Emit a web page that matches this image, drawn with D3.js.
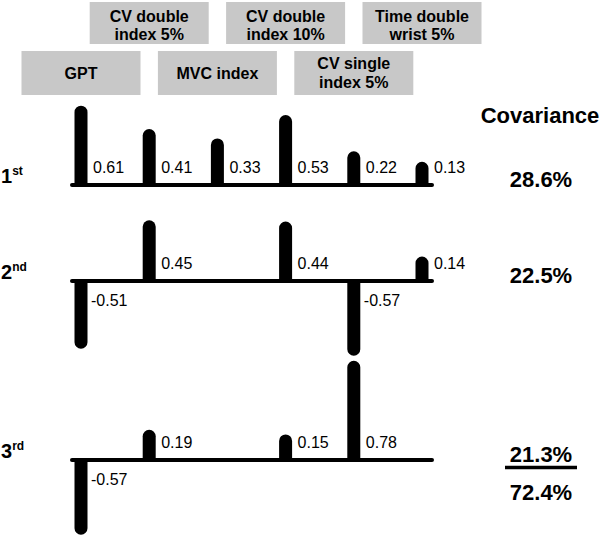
<!DOCTYPE html>
<html>
<head>
<meta charset="utf-8">
<script src="https://cdn.jsdelivr.net/npm/d3@7"></script>
<style>
  body { margin: 0; background: #fff; }
  text { font-family: "Liberation Sans", Arial, sans-serif; fill: #000; }
</style>
</head>
<body>
<div id="canvas"></div>
<script>
// variables (header boxes), in column order
var variables = ["GPT", "CV double index 5%", "MVC index", "CV double index 10%", "CV single index 5%", "Time double wrist 5%"];
var headerLines = [["GPT"], ["CV double", "index 5%"], ["MVC index"], ["CV double", "index 10%"], ["CV single", "index 5%"], ["Time double", "wrist 5%"]];

// components
var componentNum = ["1", "2", "3"];
var componentSup = ["st", "nd", "rd"];

// loadings per component (null = not shown)
var loadings1 = [0.61, 0.41, 0.33, 0.53, 0.22, 0.13];
var loadings2 = [-0.51, 0.45, null, 0.44, -0.57, 0.14];
var loadings3 = [-0.57, 0.19, null, 0.15, 0.78, null];

// explained covariance
var covariance = ["28.6%", "22.5%", "21.3%"];
var covarianceTotal = "72.4%";

var width = 602, height = 536;
var rowY = [185, 281, 460];   // baseline of each component row
var barW = 13;

var svg = d3.select("#canvas")
  .append("svg")
  .attr("width", width)
  .attr("height", height);

// column positions
var x = d3.scalePoint()
  .domain(variables)
  .range([81, 422]);

// loading -> bar length
var len = d3.scaleLinear()
  .domain([0, 1])
  .range([0, 117]);

// header boxes, alternating rows
var boxW = 119;
var header = svg.append("g").selectAll("g")
  .data(variables)
  .enter()
  .append("g")
  .attr("transform", function (d, i) {
    var top = (i % 2 === 1) ? 2 : 51;
    return "translate(" + (x(d) - boxW / 2) + "," + top + ")";
  });

header.append("rect")
  .attr("width", boxW)
  .attr("height", function (d, i) { return i % 2 === 1 ? 42 : 44; })
  .style("fill", "#c8c8c8");

header.each(function (d, i) {
  var lines = headerLines[i];
  var h = (i % 2 === 1) ? 42 : 44;
  var first = lines.length === 1 ? h / 2 + 6 : (i % 2 === 1 ? 19.5 : 18);
  var t = d3.select(this).append("text")
    .attr("text-anchor", "middle")
    .style("font-size", "16px")
    .style("font-weight", "bold");
  lines.forEach(function (s, k) {
    t.append("tspan")
      .attr("x", boxW / 2)
      .attr("y", first + k * 18.5)
      .text(s);
  });
});

// bar path with a rounded free end
function barPath(cx, y0, v) {
  var r = barW / 2;
  var L = len(Math.abs(v)) + 8;
  var xl = cx - r, xr = cx + r;
  if (v >= 0) {
    var tip = y0 - L;
    return "M" + xl + "," + y0 + "L" + xl + "," + (tip + r) +
      "A" + r + "," + r + " 0 0 1 " + xr + "," + (tip + r) +
      "L" + xr + "," + y0 + "Z";
  } else {
    var tipN = y0 + L;
    return "M" + xl + "," + y0 + "L" + xl + "," + (tipN - r) +
      "A" + r + "," + r + " 0 0 0 " + xr + "," + (tipN - r) +
      "L" + xr + "," + y0 + "Z";
  }
}

var allLoadings = [loadings1, loadings2, loadings3];

allLoadings.forEach(function (vals, row) {
  var y0 = rowY[row];
  var g = svg.append("g");

  var data = vals.map(function (v, i) { return { name: variables[i], v: v }; })
    .filter(function (d) { return d.v !== null; });

  // baseline
  g.append("line")
    .attr("x1", 72).attr("x2", 432)
    .attr("y1", y0).attr("y2", y0)
    .style("stroke", "#000")
    .style("stroke-width", 4)
    .style("stroke-linecap", "round");

  g.selectAll("path.bar")
    .data(data)
    .enter()
    .append("path")
    .attr("class", "bar")
    .attr("d", function (d) { return barPath(x(d.name), y0, d.v); })
    .style("fill", "#000");

  g.selectAll("text.val")
    .data(data)
    .enter()
    .append("text")
    .attr("class", "val")
    .attr("x", function (d) { return x(d.name) + (d.v < 0 ? 10 : 12); })
    .attr("y", function (d) { return d.v < 0 ? y0 + 25 : y0 - 12; })
    .style("font-size", "16px")
    .text(function (d) { return d.v.toFixed(2); });

  // row label
  var lab = svg.append("text")
    .attr("x", 1)
    .attr("y", y0 - 2)
    .style("font-size", "20px")
    .style("font-weight", "bold");
  lab.append("tspan").text(componentNum[row]);
  lab.append("tspan")
    .attr("dy", -8)
    .style("font-size", "12px")
    .text(componentSup[row]);

  // covariance value
  svg.append("text")
    .attr("x", 541)
    .attr("y", y0 + 2)
    .attr("text-anchor", "middle")
    .style("font-size", "22px")
    .style("font-weight", "bold")
    .text(covariance[row]);
});

svg.append("text")
  .attr("x", 540)
  .attr("y", 123)
  .attr("text-anchor", "middle")
  .style("font-size", "22px")
  .style("font-weight", "bold")
  .text("Covariance");

// sum line and total
svg.append("line")
  .attr("x1", 505).attr("x2", 577)
  .attr("y1", 467.5).attr("y2", 467.5)
  .style("stroke", "#000")
  .style("stroke-width", 3.5);

svg.append("text")
  .attr("x", 541)
  .attr("y", 500)
  .attr("text-anchor", "middle")
  .style("font-size", "22px")
  .style("font-weight", "bold")
  .text(covarianceTotal);
</script>
</body>
</html>
